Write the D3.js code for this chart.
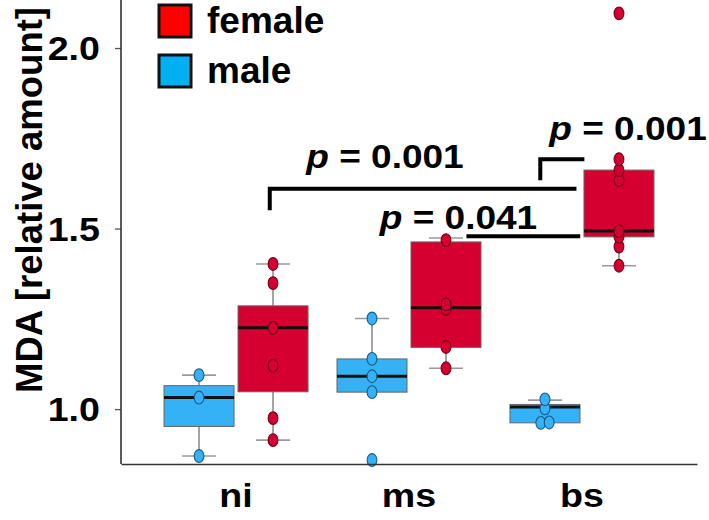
<!DOCTYPE html>
<html><head><meta charset="utf-8">
<script src="https://cdn.jsdelivr.net/npm/d3@7"></script>
<style>
html,body{margin:0;padding:0;background:#fff;}
svg{display:block;font-family:"Liberation Sans",Arial,sans-serif;font-weight:bold;}
</style></head>
<body><svg id="chart" width="709" height="520"></svg>
<script>
// ---------- data ----------
const categories = ["ni", "ms", "bs"];
const sexes = ["male", "female"];
const legendLabels = ["female", "male"];
const yTicks = [1.0, 1.5, 2.0];

// box statistics [whiskerLow, q1, median, q3, whiskerHigh]
const maleStats = [
  [0.870, 0.952, 1.032, 1.065, 1.094],
  [1.047, 1.047, 1.091, 1.139, 1.251],
  [0.962, 0.962, 1.006, 1.013, 1.025]
];
const femaleStats = [
  [0.914, 1.048, 1.225, 1.286, 1.402],
  [1.113, 1.171, 1.281, 1.463, 1.474],
  [1.397, 1.477, 1.493, 1.662, 1.662]
];
// individual observations
const malePoints = [
  [1.094, 1.032, 0.870],
  [1.251, 1.139, 1.091, 1.047, 0.859],
  [1.027, 1.002, 0.963, 0.962]
];
const femalePoints = [
  [1.402, 1.349, 1.225, 1.120, 0.975, 0.914],
  [1.468, 1.290, 1.278, 1.172, 1.113],
  [2.096, 1.692, 1.662, 1.634, 1.493, 1.477, 1.450, 1.397]
];
// significance brackets: from/to category with offset (in category steps), y level, drop levels
const bracketLabels = ["p = 0.001", "p = 0.041", "p = 0.001"];
const bracketFrom = [["ni", 0.195], ["ms", 0.332], ["bs", -0.241]];
const bracketTo = [["bs", -0.032], ["bs", -0.010], ["bs", 0.014]];
const bracketLevel = [1.610, 1.479, 1.692];
const bracketLeftDrop = [1.551, null, 1.634];
const labelAt = [["ms", -0.139, 1.668], ["ms", 0.286, 1.499], ["bs", 0.266, 1.746]];

// ---------- styles ----------
const boxFill = {male: "#35b2f5", female: "#d5002f"};
const ptStroke = {male: "#1c5a86", female: "#70001a"};
const legendFill = {female: "#ff0000", male: "#00b0f0"};
const TXT_SX = 1.14;

const svg = d3.select("#chart");
const mLeft = 121, mRight = 697, mTop = 0, mBottom = 464;

const x0 = d3.scaleBand().domain(categories).range([mLeft, mRight]).paddingInner(0).paddingOuter(0.165);
const x1 = d3.scaleBand().domain(sexes).range([0, 144]).paddingInner(0.054);
const x1off = (x0.bandwidth() - 144) / 2;
const y = d3.scaleLinear().domain([0.848, 2.133]).range([mBottom, mTop]);
const stepX = (c, off) => x0(c) + x0.bandwidth() / 2 + off * x0.step();

const boxCenter = (ci, s) => x0(categories[ci]) + x1off + x1(s) + x1.bandwidth() / 2;

// ---------- boxes ----------
const groups = [];
categories.forEach((c, ci) => {
  groups.push({ci, sex: "male", st: maleStats[ci], pts: malePoints[ci]});
  groups.push({ci, sex: "female", st: femaleStats[ci], pts: femalePoints[ci]});
});
const bw = x1.bandwidth();
const capW = 34;
const g = svg.append("g");
const wStroke = "#9a9a9a";
groups.forEach(d => {
  const cx = boxCenter(d.ci, d.sex);
  const [lo, q1, med, q3, hi] = d.st;
  if (hi > q3) {
    g.append("line").attr("x1", cx).attr("x2", cx).attr("y1", y(q3)).attr("y2", y(hi)).attr("stroke", wStroke).attr("stroke-width", 1.8);
    g.append("line").attr("x1", cx - capW/2).attr("x2", cx + capW/2).attr("y1", y(hi)).attr("y2", y(hi)).attr("stroke", wStroke).attr("stroke-width", 1.6);
  }
  if (lo < q1) {
    g.append("line").attr("x1", cx).attr("x2", cx).attr("y1", y(q1)).attr("y2", y(lo)).attr("stroke", wStroke).attr("stroke-width", 1.8);
    g.append("line").attr("x1", cx - capW/2).attr("x2", cx + capW/2).attr("y1", y(lo)).attr("y2", y(lo)).attr("stroke", wStroke).attr("stroke-width", 1.6);
  }
  g.append("rect").attr("x", cx - bw/2).attr("y", y(q3)).attr("width", bw).attr("height", y(q1) - y(q3))
    .attr("fill", boxFill[d.sex]).attr("stroke", "#666").attr("stroke-width", 1);
  g.append("line").attr("x1", cx - bw/2).attr("x2", cx + bw/2).attr("y1", y(med)).attr("y2", y(med))
    .attr("stroke", "#111").attr("stroke-width", 3);
});
// points (dodge near-identical values)
groups.forEach(d => {
  const cx = boxCenter(d.ci, d.sex);
  const sorted = d.pts.slice().sort((a, b) => a - b);
  const offs = sorted.map(() => 0);
  for (let i = 1; i < sorted.length; i++) {
    if (Math.abs(y(sorted[i]) - y(sorted[i-1])) < 2) { offs[i-1] = -4.2; offs[i] = 4.2; }
  }
  g.selectAll(null).data(sorted.map((v, i) => ({v, o: offs[i]}))).join("ellipse")
    .attr("cx", p => cx + p.o).attr("cy", p => y(p.v)).attr("rx", 4.9).attr("ry", 6.4)
    .attr("fill", boxFill[d.sex]).attr("stroke", ptStroke[d.sex]).attr("stroke-width", 1.1);
});

// ---------- axes ----------
const yAxis = svg.append("g").attr("transform", `translate(${mLeft},0)`)
  .call(d3.axisLeft(y).tickValues(yTicks).tickFormat(d3.format(".1f")).tickSize(6).tickSizeOuter(0));
yAxis.select(".domain").remove();
yAxis.selectAll(".tick line").attr("stroke", "#555").attr("stroke-width", 1.3);
yAxis.selectAll(".tick text").attr("font-size", 33).attr("font-weight", "bold").attr("fill", "#000")
  .attr("x", 0).attr("dy", "0.35em").attr("text-anchor", "end")
  .attr("transform", `translate(-21,0) scale(${TXT_SX},1)`);
svg.append("line").attr("x1", mLeft).attr("x2", mLeft).attr("y1", mTop).attr("y2", mBottom)
  .attr("stroke", "#333").attr("stroke-width", 1.6);

const xAxis = svg.append("g").attr("transform", `translate(0,${mBottom})`)
  .call(d3.axisBottom(x0).tickSize(0).tickSizeOuter(0));
xAxis.select(".domain").attr("stroke", "#333").attr("stroke-width", 1.6);
xAxis.selectAll(".tick text").attr("font-size", 33).attr("font-weight", "bold").attr("fill", "#000")
  .attr("y", 0).attr("dy", 0).attr("transform", `translate(0,43) scale(${TXT_SX},1)`);

svg.append("text").attr("transform", `translate(42,${(7 + 393) / 2}) rotate(-90)`)
  .attr("text-anchor", "middle").attr("font-size", 36.5).attr("fill", "#000")
  .text("MDA [relative amount]");

// ---------- brackets ----------
bracketLabels.forEach((lab, i) => {
  const xa = stepX(bracketFrom[i][0], bracketFrom[i][1]);
  const xb = stepX(bracketTo[i][0], bracketTo[i][1]);
  const yl = y(bracketLevel[i]);
  let dPath = `M${xb},${yl} L${xa},${yl}`;
  if (bracketLeftDrop[i] !== null) dPath += ` L${xa},${y(bracketLeftDrop[i])}`;
  svg.append("path").attr("d", dPath).attr("fill", "none").attr("stroke", "#000").attr("stroke-width", 4);
  const t = svg.append("g").attr("transform", `translate(${stepX(labelAt[i][0], labelAt[i][1])},${y(labelAt[i][2])}) scale(${TXT_SX},1)`);
  const tx = t.append("text").attr("text-anchor", "middle").attr("font-size", 32.5).attr("fill", "#000");
  tx.append("tspan").attr("font-style", "italic").text("p");
  tx.append("tspan").text(lab.slice(1));
});

// ---------- legend ----------
legendLabels.forEach((s, i) => {
  const ly = 3.5 + i * 50;
  svg.append("rect").attr("x", 159).attr("y", ly + 1.5).attr("width", 32).attr("height", 32)
    .attr("fill", legendFill[s]).attr("stroke", "#111").attr("stroke-width", 3);
  svg.append("text").attr("x", 207).attr("y", ly + 29).attr("font-size", 37).attr("fill", "#000").text(s);
});
</script></body></html>
